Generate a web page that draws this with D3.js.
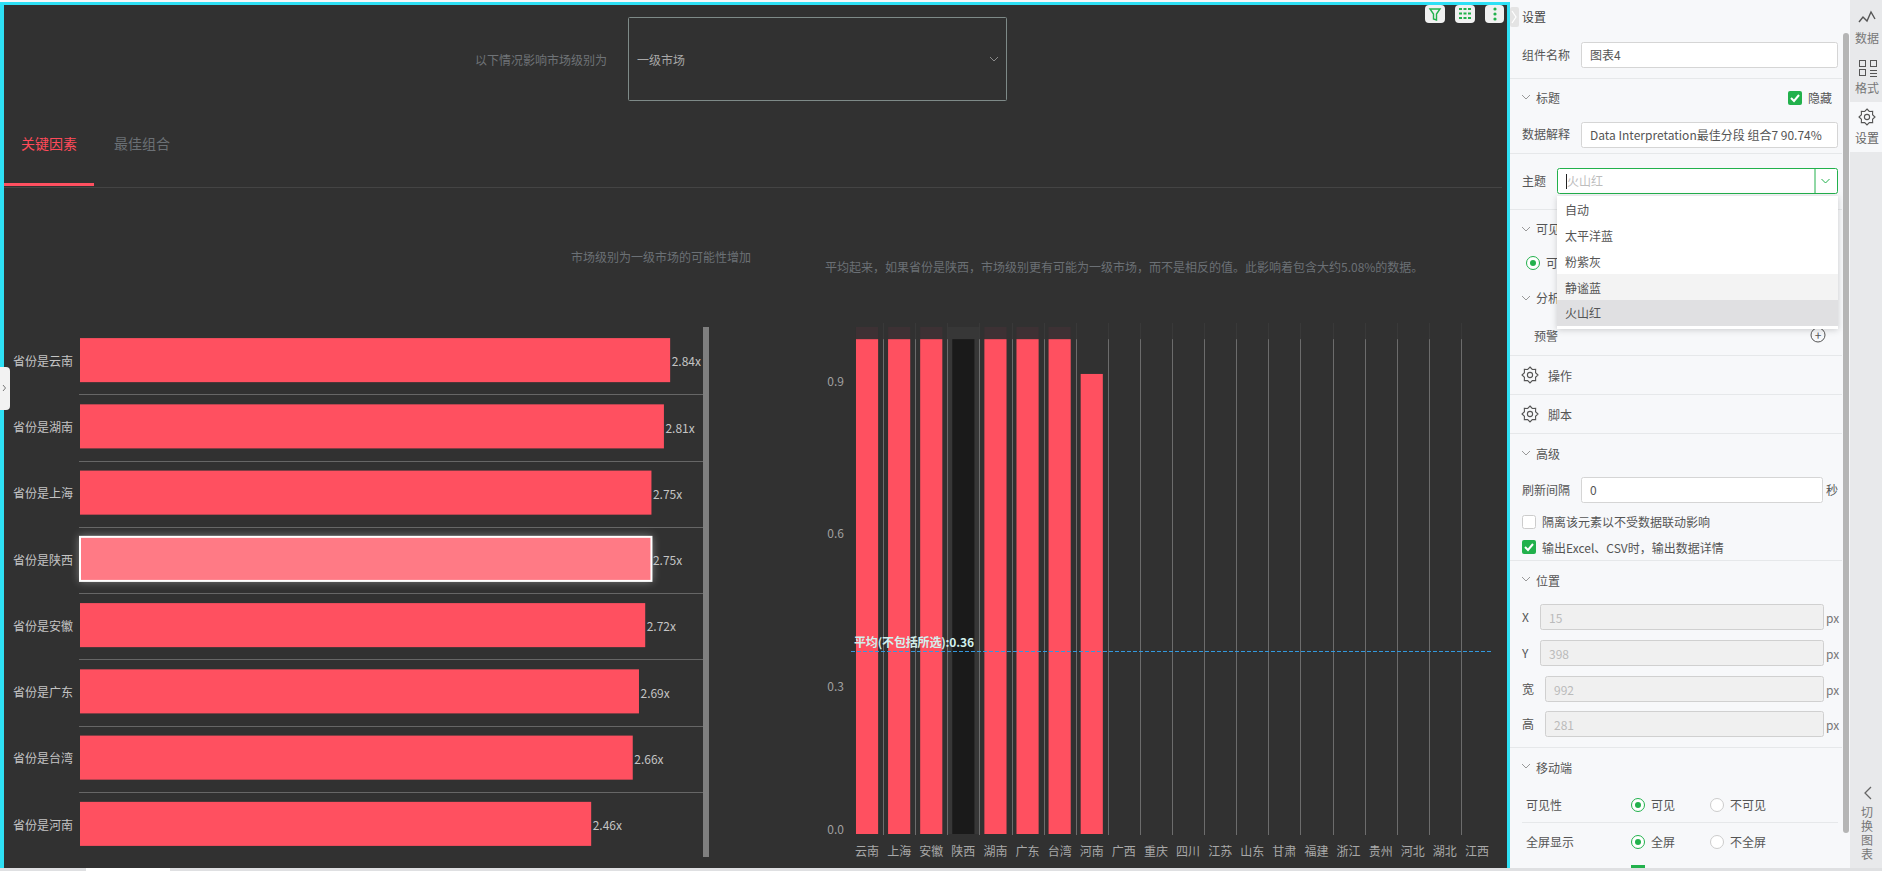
<!DOCTYPE html>
<html>
<head>
<meta charset="utf-8">
<script src="https://cdn.jsdelivr.net/npm/d3@7"></script>
<style>
html, body { margin: 0; padding: 0; overflow: hidden; background: #dfe0e2; }
svg { display: block; }
text { font-family: "Noto Sans CJK SC", "Open Sans", sans-serif; }
.axis path, .axis line { display: none; }
</style>
</head>
<body>
<svg id="page"></svg>
<script>
const width = 1882;
const height = 871;

// left chart, key factors
const factorLabels = ["省份是云南", "省份是湖南", "省份是上海", "省份是陕西", "省份是安徽", "省份是广东", "省份是台湾", "省份是河南"];
const factorValues = [2.84, 2.81, 2.75, 2.75, 2.72, 2.69, 2.66, 2.46];
const selectedFactor = "省份是陕西";

// right chart, share per province
const provinces = ["云南", "上海", "安徽", "陕西", "湖南", "广东", "台湾", "河南", "广西", "重庆", "四川", "江苏", "山东", "甘肃", "福建", "浙江", "贵州", "河北", "湖北", "江西"];
const provinceValues = [0.976, 0.976, 0.976, 0.976, 0.976, 0.976, 0.976, 0.9074, 0, 0, 0, 0, 0, 0, 0, 0, 0, 0, 0, 0];
const selectedProvince = "陕西";
const yTicks = [0, 0.3, 0.6, 0.9];
const averageValue = 0.36;
const averageLabel = "平均(不包括所选):0.36";

// settings panel lists
const themeOptions = ["自动", "太平洋蓝", "粉紫灰", "静谧蓝", "火山红"];
const switchChars = ["切", "换", "图", "表"];

const red = "#ff5060";
const svg = d3.select("#page").attr("width", width).attr("height", height);

function txt(x, y, s, size, fill, anchor, weight) {
  return svg.append("text").attr("x", x).attr("y", y).attr("dy", "0.44em")
    .attr("font-size", size).attr("fill", fill)
    .attr("text-anchor", anchor || "start").attr("font-weight", weight || "normal").text(s);
}
function box(x, y, w, h, fill, stroke, r) {
  return svg.append("rect").attr("x", x).attr("y", y).attr("width", w).attr("height", h)
    .attr("fill", fill).attr("stroke", stroke || "none").attr("rx", r || 0);
}
function hline(x1, x2, y, c) {
  svg.append("line").attr("x1", x1).attr("x2", x2).attr("y1", y).attr("y2", y).attr("stroke", c);
}
function chevron(x, y, c) {
  svg.append("path").attr("d", `M${x - 4},${y - 2}L${x},${y + 2}L${x + 4},${y - 2}`)
    .attr("fill", "none").attr("stroke", c).attr("stroke-width", 1);
}
function checkbox(x, y) {
  box(x, y, 14, 14, "#22b14c", null, 2);
  svg.append("path").attr("d", `M${x + 3},${y + 7}L${x + 6},${y + 10}L${x + 11},${y + 4}`)
    .attr("fill", "none").attr("stroke", "#fff").attr("stroke-width", 2);
}
function radio(x, y, on) {
  svg.append("circle").attr("cx", x).attr("cy", y).attr("r", 6.5).attr("fill", "#fff")
    .attr("stroke", on ? "#22b14c" : "#ccc").attr("stroke-width", 1);
  if (on) svg.append("circle").attr("cx", x).attr("cy", y).attr("r", 3).attr("fill", "#22b14c");
}
function gear(x, y) {
  const teeth = d3.range(16).map(i => [i / 16 * 2 * Math.PI, i % 2 ? 6 : 8]);
  svg.append("path").attr("transform", `translate(${x},${y})`)
    .attr("d", d3.lineRadial().curve(d3.curveLinearClosed)(teeth))
    .attr("fill", "none").attr("stroke", "#555").attr("stroke-width", 1.1);
  svg.append("circle").attr("cx", x).attr("cy", y).attr("r", 2.6).attr("fill", "none").attr("stroke", "#555").attr("stroke-width", 1.1);
}

// page frame
box(0, 0, width, height, "#f7f8fa");
box(0, 868, width, 3, "#dfe0e2");
box(86, 868, 84, 3, "#fff");
box(0, 2, 1510, 866, "#2ee0f5");
box(4, 5, 1503, 863, "#313131");

// header controls
txt(475, 60, "以下情况影响市场级别为", 12, "#6f7377");
box(628.5, 17.5, 378, 83, "none", "#7e8a88", 1);
txt(637, 60, "一级市场", 12, "#a8a8a8");
chevron(994, 59, "#8a8a8a");

txt(21, 143, "关键因素", 14, "#ff4a5a");
txt(114, 143, "最佳组合", 14, "#6b7075");
hline(4, 1502, 187.5, "#444");
box(4, 183, 90, 3, red);

txt(571, 257, "市场级别为一级市场的可能性增加", 12, "#6b7075");
txt(825, 267, "平均起来，如果省份是陕西，市场级别更有可能为一级市场，而不是相反的值。此影响着包含大约5.08%的数据。", 12, "#6b7075");

// left bar chart
const xFactor = d3.scaleLinear().domain([0, 3]).range([80, 703.4]);
const yFactor = d3.scaleBand().domain(factorLabels).range([327, 857]).paddingInner(0.335).paddingOuter(0.1675);
const factorEdge = d => Math.round(yFactor(d) - (yFactor.step() - yFactor.bandwidth()) / 2 + 1) + 0.5;

svg.append("g").selectAll("line")
  .data(factorLabels.slice(1))
  .join("line")
  .attr("x1", 79).attr("x2", 703)
  .attr("y1", factorEdge)
  .attr("y2", factorEdge)
  .attr("stroke", "#666");

svg.append("g").selectAll("rect")
  .data(factorLabels)
  .join("rect")
  .attr("x", xFactor(0))
  .attr("y", d => yFactor(d))
  .attr("width", (d, i) => xFactor(factorValues[i]) - xFactor(0))
  .attr("height", yFactor.bandwidth())
  .attr("fill", d => d === selectedFactor ? "#ff7a85" : red)
  .attr("stroke", d => d === selectedFactor ? "#fff" : "none")
  .attr("stroke-width", 2)
  .style("filter", d => d === selectedFactor ? "drop-shadow(0 0 4px rgba(255,255,255,.35))" : null);

svg.append("g").attr("class", "axis")
  .attr("transform", "translate(80,2)")
  .call(d3.axisLeft(yFactor).tickSize(0).tickPadding(7))
  .call(g => g.selectAll("text").attr("font-size", 12).attr("fill", "#c4c4c4"));

svg.append("g").selectAll("text")
  .data(factorLabels)
  .join("text")
  .attr("x", (d, i) => xFactor(factorValues[i]) + 1.5)
  .attr("y", d => yFactor(d) + yFactor.bandwidth() / 2 + 1)
  .attr("dy", "0.44em")
  .attr("font-size", 12)
  .attr("fill", "#c4c4c4")
  .text((d, i) => factorValues[i].toFixed(2) + "x");

box(703, 327, 6, 530, "#7f7f7f");

// right column chart
const xProv = d3.scaleBand().domain(provinces).range([851, 1493]).paddingInner(0.31).paddingOuter(0.155);
const yProv = d3.scaleLinear().domain([0, 1]).range([834, 327]);
const gap = (xProv.step() - xProv.bandwidth()) / 2;
const provEdge = d => Math.round(xProv(d) - gap) + 0.5;

// highlight of the selected column
box(xProv(selectedProvince) - gap, yProv(1), xProv.step(), yProv(0) - yProv(1), "#373737");

const gridEdges = provinces.slice(1);
svg.append("g").selectAll("line.top")
  .data(gridEdges)
  .join("line")
  .attr("x1", provEdge).attr("x2", provEdge)
  .attr("y1", yProv(1) - 4).attr("y2", yProv(0.976))
  .attr("stroke", "#393939");
svg.append("g").selectAll("line.main")
  .data(gridEdges)
  .join("line")
  .attr("x1", provEdge).attr("x2", provEdge)
  .attr("y1", yProv(0.976)).attr("y2", yProv(0) + 1)
  .attr("stroke", "#6c6c6c");

// values that reach the top get a faint cap up to the axis maximum
svg.append("g").selectAll("rect")
  .data(provinces.filter((d, i) => provinceValues[i] > 0.95 && d !== selectedProvince))
  .join("rect")
  .attr("x", d => xProv(d))
  .attr("y", yProv(1))
  .attr("width", xProv.bandwidth())
  .attr("height", yProv(0.976) - yProv(1))
  .attr("fill", "#3d3134");

svg.append("g").selectAll("rect")
  .data(provinces)
  .join("rect")
  .attr("x", d => xProv(d))
  .attr("y", (d, i) => yProv(provinceValues[i]))
  .attr("width", xProv.bandwidth())
  .attr("height", (d, i) => yProv(0) - yProv(provinceValues[i]))
  .attr("fill", d => d === selectedProvince ? "#1a1a1a" : red);

svg.append("g").attr("class", "axis")
  .attr("transform", `translate(0,${yProv(0)})`)
  .call(d3.axisBottom(xProv).tickSize(0).tickPadding(13))
  .call(g => g.selectAll("text").attr("font-size", 12).attr("fill", "#a8a8a8"));

svg.append("g").attr("class", "axis")
  .attr("transform", "translate(851,0)")
  .call(d3.axisLeft(yProv).tickValues(yTicks).tickFormat(d3.format(".1f")).tickSize(0).tickPadding(7))
  .call(g => g.selectAll("text").attr("font-size", 12).attr("fill", "#a0a0a0")
    .attr("dy", d => d === 0 ? "-0.06em" : "0.68em"));

svg.append("line")
  .attr("x1", 851).attr("x2", 1491.5)
  .attr("y1", Math.round(yProv(averageValue)) + 0.5).attr("y2", Math.round(yProv(averageValue)) + 0.5)
  .attr("stroke", "#3399dd").attr("stroke-dasharray", "4,2");
txt(854, yProv(averageValue) - 10, averageLabel, 12, "#d2efec", "start", "bold").attr("textLength", 120);

// collapse handle on the left edge
svg.append("path").attr("d", "M0,367H6Q10,367 10,371V406Q10,410 6,410H0Z").attr("fill", "#f2f2f2");
svg.append("path").attr("d", "M3,385L5.5,388L3,391").attr("fill", "none").attr("stroke", "#777");

// tool buttons on the top right
box(1425, 5, 20, 18, "#f0f0f0", null, 4);
svg.append("path").attr("d", "M1430,9H1440L1436.5,14V20L1433.5,19V14Z").attr("fill", "none").attr("stroke", "#22b14c").attr("stroke-width", 1.4);
box(1455, 5, 20, 18, "#f0f0f0", null, 4);
[9, 13.5, 18].forEach(y => svg.append("line").attr("x1", 1459).attr("x2", 1471).attr("y1", y).attr("y2", y)
  .attr("stroke", "#22b14c").attr("stroke-width", 2).attr("stroke-dasharray", "3,1.5"));
box(1485, 5, 19, 18, "#f0f0f0", null, 4);
[9, 14, 19].forEach(y => svg.append("circle").attr("cx", 1495).attr("cy", y).attr("r", 1.6).attr("fill", "#22b14c"));

// settings panel
const label = "#555";
box(1510, 7, 9, 20, "#e4e4e4", null, 2);
svg.append("path").attr("d", "M1512,11L1516,17L1512,23").attr("fill", "none").attr("stroke", "#fff").attr("stroke-width", 1.2);
txt(1522, 17, "设置", 12, "#444");

txt(1522, 55, "组件名称", 12, label);
box(1581.5, 42.5, 256, 25, "#fff", "#d5d5d5", 2);
txt(1590, 55, "图表4", 12, "#555");
hline(1510, 1842, 78.5, "#e6e8ea");

chevron(1526, 97, "#999");
txt(1536, 98, "标题", 12, label);
checkbox(1788, 91);
txt(1808, 98, "隐藏", 12, label);

txt(1522, 134, "数据解释", 12, label);
box(1581.5, 122.5, 256, 25, "#fff", "#d5d5d5", 2);
txt(1590, 135, "Data Interpretation最佳分段 组合7 90.74%", 12, "#555");
hline(1510, 1842, 153.5, "#e6e8ea");

txt(1522, 181, "主题", 12, label);
box(1557.5, 168.5, 280, 25, "#fff", "#22b14c", 2);
svg.append("line").attr("x1", 1815).attr("x2", 1815).attr("y1", 169).attr("y2", 193).attr("stroke", "#22b14c");
chevron(1825.5, 181, "#22b14c");
svg.append("line").attr("x1", 1566.5).attr("x2", 1566.5).attr("y1", 174).attr("y2", 189).attr("stroke", "#222");
txt(1567, 181, "火山红", 12, "#bdbdbd");
hline(1510, 1842, 209.5, "#e6e8ea");

// these two headings are cut off by the open dropdown
chevron(1526, 229, "#999");
txt(1536, 229, "可见", 12, label);
radio(1533, 263, true);
txt(1546, 263, "可", 12, label);
chevron(1526, 298, "#999");
txt(1536, 298, "分析", 12, label);
txt(1534, 336, "预警", 12, label);
svg.append("circle").attr("cx", 1818).attr("cy", 335).attr("r", 7).attr("fill", "none").attr("stroke", "#555");
txt(1818, 335, "+", 12, "#555", "middle");

// theme dropdown on top of the panel
box(1557, 196, 281, 133, "#fff").style("filter", "drop-shadow(0 1px 3px rgba(0,0,0,.18))");
box(1557, 274, 281, 26, "#f3f3f3");
box(1557, 300, 281, 26, "#e0e0e2");
svg.append("g").selectAll("text")
  .data(themeOptions)
  .join("text")
  .attr("x", 1565)
  .attr("y", (d, i) => 210 + i * 25.8)
  .attr("dy", "0.44em")
  .attr("font-size", 12)
  .attr("fill", "#555")
  .text(d => d);

hline(1510, 1842, 355.5, "#e6e8ea");
gear(1530, 375);
txt(1548, 375.5, "操作", 12, label);
hline(1510, 1842, 394.5, "#e6e8ea");
gear(1530, 414);
txt(1548, 414.5, "脚本", 12, label);
hline(1510, 1842, 433.5, "#e6e8ea");

chevron(1526, 453, "#999");
txt(1536, 454, "高级", 12, label);
txt(1522, 490, "刷新间隔", 12, label);
box(1581.5, 477.5, 241, 25, "#fff", "#d5d5d5", 2);
txt(1590, 490, "0", 12, "#555");
txt(1826, 490, "秒", 12, label);
box(1522.5, 515.5, 13, 13, "#fff", "#ccc", 2);
txt(1542, 522, "隔离该元素以不受数据联动影响", 12, label);
checkbox(1522, 540);
txt(1542, 547.5, "输出Excel、CSV时，输出数据详情", 12, label);
hline(1510, 1842, 560.5, "#e6e8ea");

chevron(1526, 579, "#999");
txt(1536, 580.5, "位置", 12, label);
[["X", "15", 617, 1540], ["Y", "398", 653, 1540], ["宽", "992", 689, 1545], ["高", "281", 724, 1545]].forEach(r => {
  txt(1522, r[2], r[0], 12, label);
  box(r[3] + 0.5, r[2] - 12.5, 1823 - r[3], 25, "#f0f0f0", "#d0d0d0", 2);
  txt(r[3] + 9, r[2] + 1, r[1], 12, "#bbb");
  txt(1826, r[2] + 1, "px", 12, "#777");
});
hline(1510, 1842, 747.5, "#e6e8ea");

chevron(1526, 766, "#999");
txt(1536, 767.5, "移动端", 12, label);
txt(1526, 805, "可见性", 12, label);
radio(1638, 805, true);
txt(1651, 805, "可见", 12, label);
radio(1717, 805, false);
txt(1730, 805, "不可见", 12, label);
hline(1522, 1838, 822.5, "#e6e8ea");
txt(1526, 842, "全屏显示", 12, label);
radio(1638, 842, true);
txt(1651, 842, "全屏", 12, label);
radio(1717, 842, false);
txt(1730, 842, "不全屏", 12, label);
box(1631, 865, 14, 3, "#22b14c");

box(1843, 33, 6, 800, "#b5b5b5", null, 3);

// right nav strip
box(1850, 0, 32, 868, "#e8e9eb");
box(1850, 102, 32, 50, "#f7f8fa");
svg.append("path").attr("d", "M1859,22L1863,17L1867,21L1871,12L1875,19").attr("fill", "none").attr("stroke", "#555").attr("stroke-width", 1.4);
txt(1867, 38, "数据", 12, "#777", "middle");
[[1859, 60], [1870, 60], [1859, 69]].forEach(p => box(p[0] + 0.5, p[1] + 0.5, 6, 6, "none", "#555"));
[70, 73, 76].forEach(y => hline(1870, 1877, y + 0.5, "#555"));
txt(1867, 88, "格式", 12, "#777", "middle");
gear(1867, 117);
txt(1867, 138, "设置", 12, "#666", "middle");
svg.append("path").attr("d", "M1871,787L1865,793L1871,799").attr("fill", "none").attr("stroke", "#666").attr("stroke-width", 1.3);
svg.append("g").selectAll("text")
  .data(switchChars)
  .join("text")
  .attr("x", 1867)
  .attr("y", (d, i) => 812 + i * 14)
  .attr("dy", "0.44em")
  .attr("text-anchor", "middle")
  .attr("font-size", 12)
  .attr("fill", "#777")
  .text(d => d);
</script>
</body>
</html>
